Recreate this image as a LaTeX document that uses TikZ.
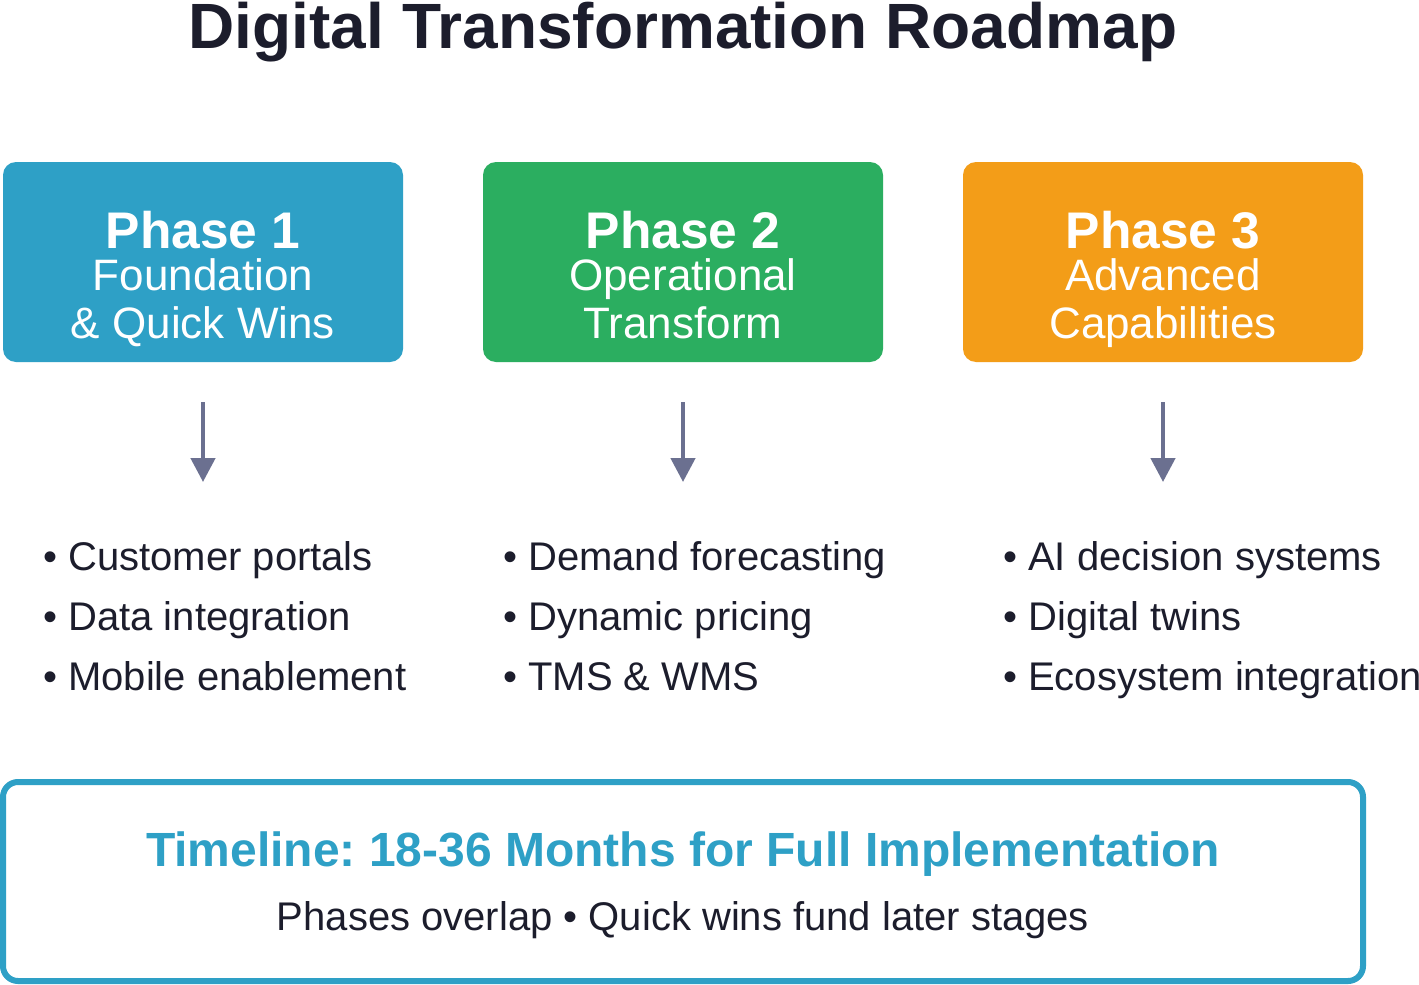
\documentclass[tikz,border=0pt]{standalone}
\usepackage{fontspec}
\setmainfont{Liberation Sans}
\usetikzlibrary{arrows.meta}
\definecolor{pblue}{RGB}{46,160,198}
\definecolor{pgreen}{RGB}{43,174,96}
\definecolor{porange}{RGB}{243,157,24}
\definecolor{ink}{RGB}{28,29,44}
\definecolor{arrowc}{RGB}{107,112,144}
\newcommand{\fs}[1]{\fontsize{#1pt}{#1pt}\selectfont}
\tikzset{
  phasebox/.style={rounded corners=13pt, minimum width=400pt, minimum height=200pt, inner sep=0pt},
  phasetitle/.style={anchor=base, inner sep=0pt, text=white, font=\fs{51.5}\bfseries},
  phasesub/.style={anchor=base, inner sep=0pt, text=white, font=\fs{44}},
  item/.style={anchor=base west, inner sep=0pt, text=ink, font=\fs{40}},
  flow/.style={draw=arrowc, line width=4.5pt, -{Triangle[width=24pt,length=24pt]}},
}
\frenchspacing
\begin{document}
\frenchspacing
\begin{tikzpicture}[x=1pt,y=-1pt]
\useasboundingbox[fill=white] (0,0) rectangle (1419,985);
% title
\node[anchor=base, inner sep=0pt, text=ink, font=\fs{64}\bfseries] (title) at (683,48) {Digital Transformation Roadmap};
% phase boxes
\node[phasebox, fill=pblue] (p1) at (203,262) {};
\node[phasebox, fill=pgreen] (p2) at (683,262) {};
\node[phasebox, fill=porange] (p3) at (1163,262) {};
\node[phasetitle] (p1t) at (203,248.5) {Phase 1};
\node[phasesub] (p1a) at (203,290.5) {Foundation};
\node[phasesub] (p1b) at (203,338) {\& Quick Wins};
\node[phasetitle] (p2t) at (683,248.5) {Phase 2};
\node[phasesub] (p2a) at (683,290.5) {Operational};
\node[phasesub] (p2b) at (683,338) {Transform};
\node[phasetitle] (p3t) at (1163,248.5) {Phase 3};
\node[phasesub] (p3a) at (1163,290.5) {Advanced};
\node[phasesub] (p3b) at (1163,338) {Capabilities};
% arrows
\coordinate (a1s) at (203,402); \coordinate (a1e) at (203,482);
\coordinate (a2s) at (683,402); \coordinate (a2e) at (683,482);
\coordinate (a3s) at (1163,402); \coordinate (a3e) at (1163,482);
\draw[flow] (a1s) -- (a1e);
\draw[flow] (a2s) -- (a2e);
\draw[flow] (a3s) -- (a3e);
% bullet items
\node[item] (i11) at (43,570) {• Customer portals};
\node[item] (i12) at (43,630) {• Data integration};
\node[item] (i13) at (43,690) {• Mobile enablement};
\node[item] (i21) at (503,570) {• Demand forecasting};
\node[item] (i22) at (503,630) {• Dynamic pricing};
\node[item] (i23) at (503,690) {• TMS \& WMS};
\node[item] (i31) at (1003,570) {• AI decision systems};
\node[item] (i32) at (1003,630) {• Digital twins};
\node[item] (i33) at (1003,690) {• Ecosystem integration};
% timeline box
\node[draw=pblue, line width=6pt, rounded corners=15pt, minimum width=1360pt, minimum height=199pt, inner sep=0pt, fill=white] (tl) at (683,881.5) {};
\node[anchor=base, inner sep=0pt, text=pblue, font=\fs{48}\bfseries] (tlt) at (683,866.5) {Timeline: 18-36 Months for Full Implementation};
\node[anchor=base, inner sep=0pt, text=ink, font=\fs{40}] (tls) at (683,930) {Phases overlap • Quick wins fund later stages};
\end{tikzpicture}
\end{document}
